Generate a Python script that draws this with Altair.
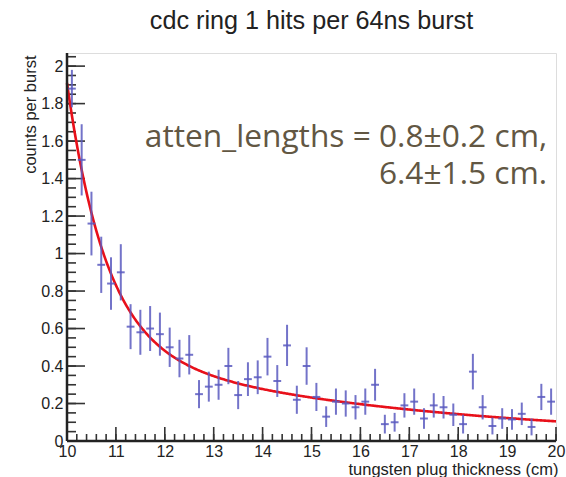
import altair as alt
import pandas as pd

# Bin centres (cm) of the tungsten plug scan and the measured rate per 64 ns burst
thickness = [10.1, 10.3, 10.5, 10.7, 10.9, 11.1, 11.3, 11.5, 11.7, 11.9,
             12.1, 12.3, 12.5, 12.7, 12.9, 13.1, 13.3, 13.5, 13.7, 13.9,
             14.1, 14.3, 14.5, 14.7, 14.9, 15.1, 15.3, 15.5, 15.7, 15.9,
             16.1, 16.3, 16.5, 16.7, 16.9, 17.1, 17.3, 17.5, 17.7, 17.9,
             18.1, 18.3, 18.5, 18.7, 18.9, 19.1, 19.3, 19.5, 19.7, 19.9]
counts = [1.88, 1.50, 1.16, 0.94, 0.84, 0.90, 0.61, 0.58, 0.60, 0.57,
          0.50, 0.44, 0.46, 0.25, 0.29, 0.30, 0.40, 0.245, 0.33, 0.34,
          0.45, 0.32, 0.51, 0.22, 0.40, 0.235, 0.13, 0.21, 0.20, 0.18,
          0.21, 0.30, 0.09, 0.10, 0.19, 0.21, 0.12, 0.19, 0.18, 0.14,
          0.09, 0.37, 0.18, 0.08, 0.12, 0.115, 0.145, 0.075, 0.235, 0.21]
errors = [0.10, 0.19, 0.17, 0.15, 0.14, 0.15, 0.12, 0.12, 0.12, 0.115,
          0.105, 0.10, 0.105, 0.075, 0.08, 0.08, 0.097, 0.075, 0.09, 0.09,
          0.10, 0.085, 0.11, 0.075, 0.10, 0.075, 0.055, 0.07, 0.07, 0.065,
          0.07, 0.085, 0.05, 0.05, 0.065, 0.07, 0.055, 0.065, 0.06, 0.06,
          0.05, 0.095, 0.065, 0.045, 0.055, 0.055, 0.06, 0.045, 0.07, 0.07]

# Double-exponential fit: amplitudes and attenuation lengths (cm)
amp_short, len_short = 1.41, 0.8
amp_long, len_long = 0.50, 6.4

x_ticks_major = [10, 11, 12, 13, 14, 15, 16, 17, 18, 19, 20]
y_ticks_major = [0, 0.2, 0.4, 0.6, 0.8, 1.0, 1.2, 1.4, 1.6, 1.8, 2.0]

W, H = 489, 388
X0, X1 = 10, 20
Y0, Y1 = 0, 2.07
half_bin = 0.08

xs = alt.Scale(domain=[X0, X1], nice=False, zero=False)
ys = alt.Scale(domain=[Y0, Y1], nice=False, zero=False)

pts = pd.DataFrame({"x": thickness, "y": counts, "e": errors})
pts["lo"] = pts["y"] - pts["e"]
pts["hi"] = pts["y"] + pts["e"]
pts["xl"] = pts["x"] - half_bin
pts["xr"] = pts["x"] + half_bin

pt_color = "#5a5ac0"
lab_font = "Liberation Sans"

# Axes carry only labels and titles; the inward ticks are drawn as rules below
x_axis = alt.Axis(
    values=x_ticks_major, format="d", ticks=False, domain=False, grid=False,
    labelOverlap=False, labelFlush=False,
    labelFont=lab_font, labelFontSize=16, labelColor="#222", labelPadding=2,
    title="tungsten plug thickness (cm)", titleFont=lab_font, titleFontSize=16.5,
    titleFontWeight="normal", titleColor="#222", titleAnchor="end",
    titleAlign="right", titleX=W + 2, titleY=33, titleBaseline="alphabetic")
y_axis = alt.Axis(
    values=y_ticks_major, ticks=False, domain=False, grid=False,
    labelOverlap=False, labelFlush=False,
    labelExpr="datum.value == 1 ? '1' : datum.value == 2 ? '2' : datum.value == 0 ? '0' : format(datum.value, '.1f')",
    labelFont=lab_font, labelFontSize=16, labelColor="#222", labelPadding=4,
    title="counts per burst", titleFont=lab_font, titleFontSize=16.5,
    titleFontWeight="normal", titleColor="#222", titleAngle=-90,
    titleAlign="right", titleBaseline="middle", titleX=-37, titleY=2)


def X(field):
    return alt.X(field, scale=xs, axis=x_axis, title="tungsten plug thickness (cm)")


def Y(field):
    return alt.Y(field, scale=ys, axis=y_axis, title="counts per burst")


# Inward-pointing tick marks, ROOT style
y_minor = pd.DataFrame({"v": [round(i * 0.05, 2) for i in range(0, 42)]})
y_major = pd.DataFrame({"v": y_ticks_major})
x_minor = pd.DataFrame({"v": [round(10 + i * 0.2, 1) for i in range(0, 51)]})
x_major = pd.DataFrame({"v": x_ticks_major})

tick_col = "#333"
ytm = alt.Chart(y_minor).mark_rule(color=tick_col, strokeWidth=1.6).encode(
    y=Y("v:Q"), x=alt.value(0), x2=alt.value(9))
ytM = alt.Chart(y_major).mark_rule(color=tick_col, strokeWidth=1.6).encode(
    y=Y("v:Q"), x=alt.value(0), x2=alt.value(18))
xtm = alt.Chart(x_minor).mark_rule(color=tick_col, strokeWidth=1.6).encode(
    x=X("v:Q"), y=alt.value(H), y2=alt.value(H - 7))
xtM = alt.Chart(x_major).mark_rule(color=tick_col, strokeWidth=1.6).encode(
    x=X("v:Q"), y=alt.value(H), y2=alt.value(H - 14))

# Left and bottom axis lines
frame = pd.DataFrame({"a": [X0], "b": [Y0]})
axis_l = alt.Chart(frame).mark_rule(color="#222", strokeWidth=2.5).encode(
    x=X("a:Q"), y=alt.value(0), y2=alt.value(H))
axis_b = alt.Chart(frame).mark_rule(color="#222", strokeWidth=2.5).encode(
    y=Y("b:Q"), x=alt.value(0), x2=alt.value(W))

vbars = alt.Chart(pts).mark_rule(color=pt_color, strokeWidth=2, opacity=0.85).encode(
    x=X("x:Q"), y=Y("lo:Q"), y2="hi:Q")
hbars = alt.Chart(pts).mark_rule(color=pt_color, strokeWidth=2, opacity=0.85).encode(
    x=X("xl:Q"), x2="xr:Q", y=Y("y:Q"))

fit = alt.Chart(alt.sequence(X0, X1 + 0.001, 0.02, as_="t")).transform_calculate(
    f=f"{amp_short} * exp(-(datum.t - {X0}) / {len_short}) + {amp_long} * exp(-(datum.t - {X0}) / {len_long})"
).mark_line(color="#e8101a", strokeWidth=2.6).encode(x=X("t:Q"), y=Y("f:Q"))

note = pd.DataFrame({
    "x": [19.82, 19.82],
    "y": [1.568, 1.37],
    "txt": [f"atten_lengths = {len_short}\u00b10.2 cm,", f"{len_long}\u00b11.5 cm."],
})
label = alt.Chart(note).mark_text(
    align="right", baseline="alphabetic", font="Open Sans", fontSize=31.7, color="#625743"
).encode(x=X("x:Q"), y=Y("y:Q"), text="txt:N")

chart = alt.layer(
    xtm, xtM, ytm, ytM, fit, vbars, hbars, axis_l, axis_b, label
).properties(
    width=W, height=H,
    title=alt.TitleParams("cdc ring 1 hits per 64ns burst", font=lab_font, fontSize=25.2,
                          fontWeight="normal", color="#222", anchor="middle", offset=18),
    autosize=alt.AutoSizeParams(type="none"),
    padding={"left": 67, "top": 53, "right": 10, "bottom": 36},
).configure_view(stroke="#666", strokeWidth=2).configure(background="white")

chart.save("out.html", embed_options={"renderer": "svg", "actions": False})
